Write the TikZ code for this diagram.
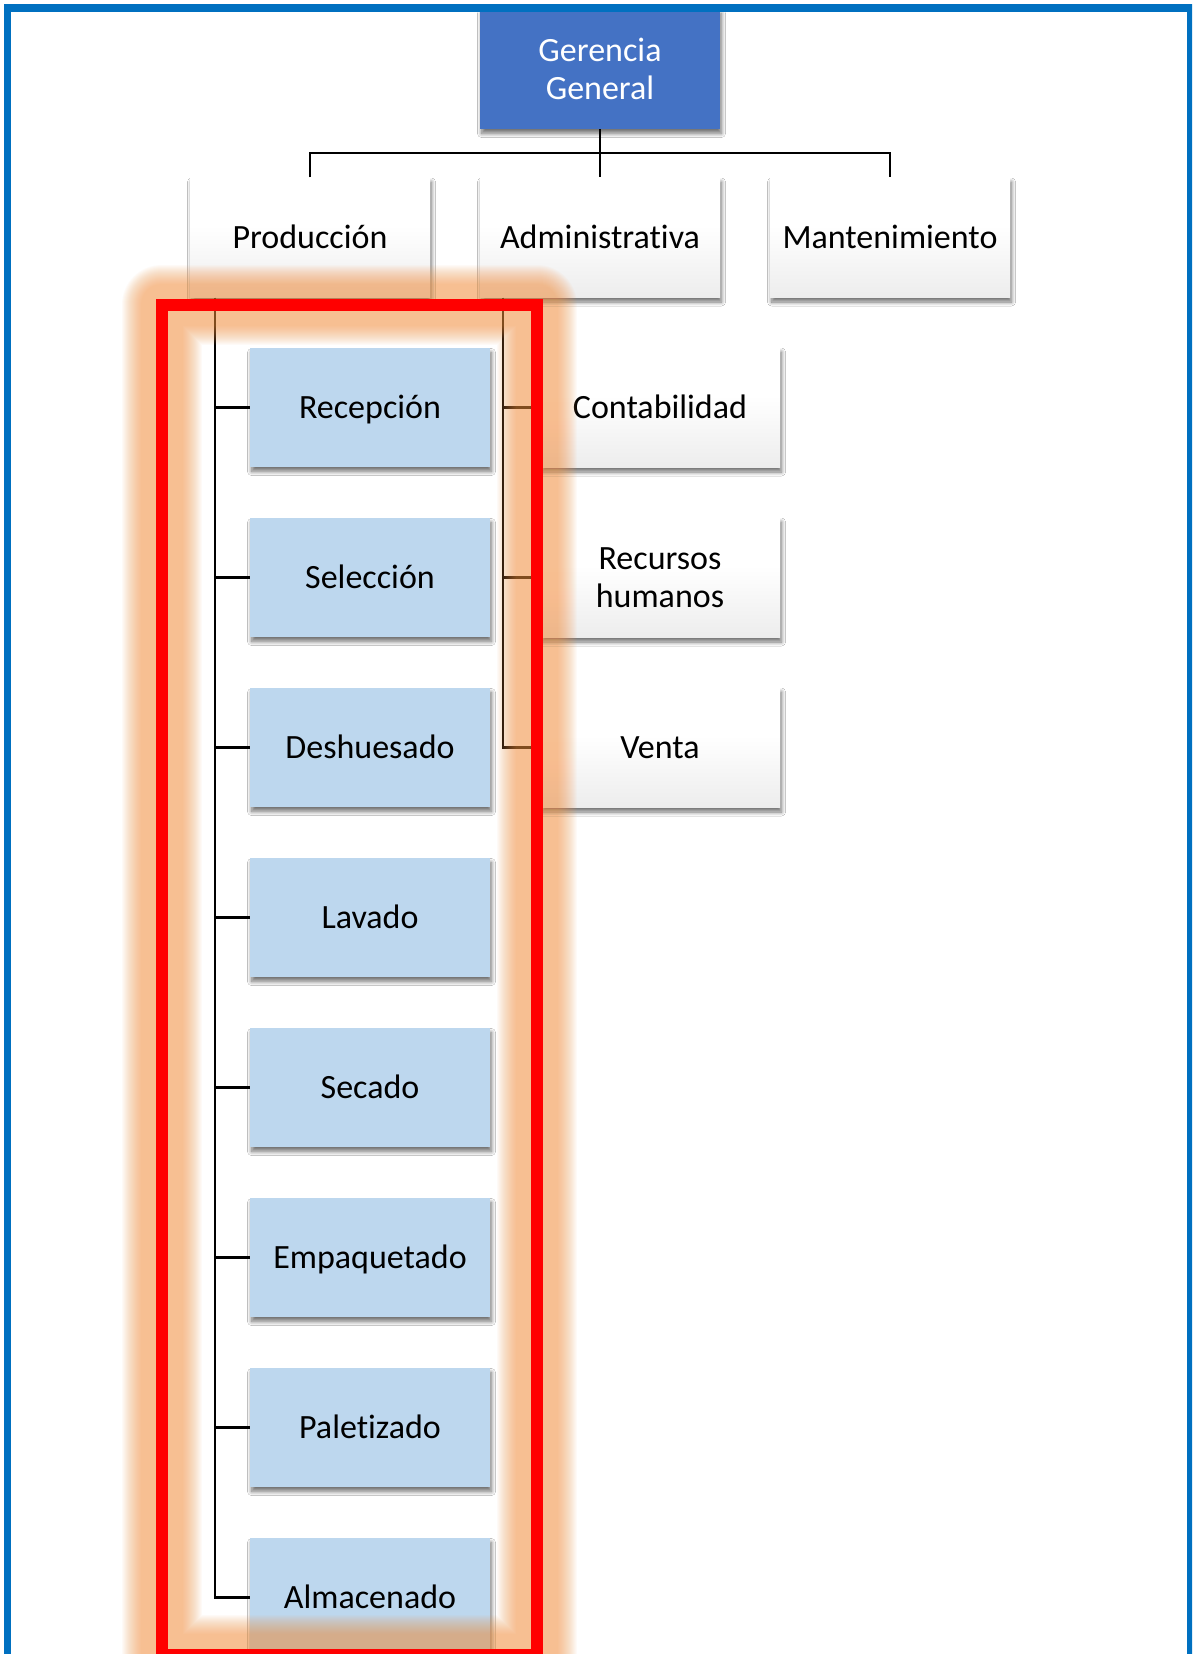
\documentclass[tikz,border=0pt]{standalone}
\usepackage{fontspec}
\setmainfont{Carlito}[Ligatures=NoCommon]
\usetikzlibrary{calc,shadows.blur}

\definecolor{framecol}{HTML}{0070C0}
\definecolor{topblue}{HTML}{4472C4}
\definecolor{unitblue}{HTML}{BDD7EE}
\definecolor{glowcol}{HTML}{F79646}

% white at the top, light grey towards the bottom edge
\pgfdeclareverticalshading{softgray}{100bp}{color(0bp)=(black!12); color(30bp)=(black!6); color(55bp)=(white); color(100bp)=(white)}

\begin{document}
\begin{tikzpicture}[x=1pt,y=-1pt,
  every node/.style={font=\fontsize{34}{38}\selectfont},
  box/.style={minimum width=240pt, minimum height=120pt, inner sep=0pt, align=center,
    blur shadow={shadow xshift=1.5pt, shadow yshift=-4.5pt, shadow blur radius=4pt,
                 shadow blur steps=10, shadow opacity=55}},
  oneline/.style={text height=22pt, text depth=0pt},
  headbox/.style={box, fill=topblue, text=white},
  deptbox/.style={box, shading=softgray},
  unitbox/.style={box, fill=unitblue, minimum height=119pt},
  link/.style={draw=black, line width=2.5pt},
  glow/.style={draw=glowcol, line join=round},
]
\useasboundingbox (0,0) rectangle (1192,1654);
\fill[white] (0,0) rectangle (1192,1654);
\clip (0,0) rectangle (1192,1654);

% top of the chart
\node[headbox] (ger) at (600,69) {Gerencia\\General};
\node[deptbox, oneline] (prod) at (310,237.5) {Producción};
\node[deptbox, oneline] (adm)  at (600,237.5) {Administrativa};
\node[deptbox, oneline] (mant) at (890,237.5) {Mantenimiento};

% production units
\node[unitbox, oneline] (rec) at (370,407.5)  {Recepción};
\node[unitbox, oneline] (sel) at (370,577.5)  {Selección};
\node[unitbox, oneline] (des) at (370,747.5)  {Deshuesado};
\node[unitbox, oneline] (lav) at (370,917.5)  {Lavado};
\node[unitbox, oneline] (sec) at (370,1087.5) {Secado};
\node[unitbox, oneline] (emp) at (370,1257.5) {Empaquetado};
\node[unitbox, oneline] (pal) at (370,1427.5) {Paletizado};
\node[unitbox, oneline] (alm) at (370,1597.5) {Almacenado};

% administrative units
\node[deptbox, oneline] (con) at (660,407.5) {Contabilidad};
\node[deptbox] (rrhh) at (660,577.5) {Recursos\\humanos};
\node[deptbox, oneline] (ven) at (660,747.5) {Venta};

% connectors from the general management
\coordinate (bus) at ($(ger.south)+(0,24)$);
\draw[link] (ger.south) -- (adm.north);
\draw[link] (prod.north) |- (bus) -| (mant.north);

% production trunk
\coordinate (ptrunk) at ($(prod.south west)+(25,0)$);
\draw[link] (ptrunk) |- (alm.west);
\foreach \n in {rec,sel,des,lav,sec,emp,pal}
  \draw[link] (ptrunk |- \n.west) -- (\n.west);

% administrative trunk
\coordinate (atrunk) at ($(adm.south west)+(23,0)$);
\draw[link] (atrunk) |- (ven.west);
\foreach \n in {con,rrhh}
  \draw[link] (atrunk |- \n.west) -- (\n.west);

% highlight around the production column: soft glow, then the red outline
\coordinate (hl1) at (161.5,305);
\coordinate (hl2) at (537,1655);
\foreach \h in {21,...,40}
  \draw[glow, opacity=0.039, line width=2*\h pt] (hl1) rectangle (hl2);
\draw[red, line width=12pt] (hl1) rectangle (hl2);

% outer frame
\draw[framecol, line width=7.5pt] (7.5,8) rectangle (1190.5,1720);
\end{tikzpicture}
\end{document}
